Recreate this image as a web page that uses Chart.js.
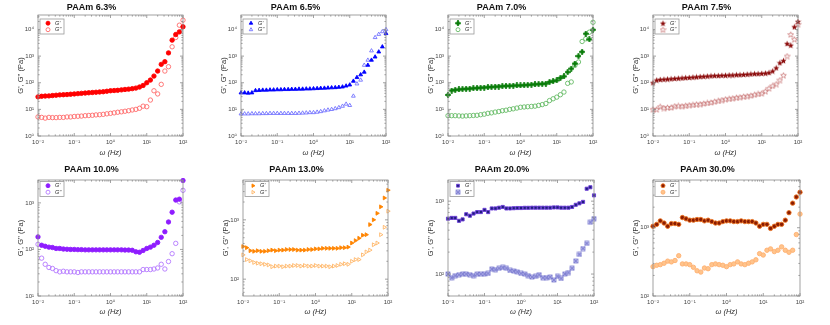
<!DOCTYPE html>
<html><head><meta charset="utf-8">
<script src="https://cdn.jsdelivr.net/npm/chart.js@4.4.1/dist/chart.umd.min.js"></script>
<style>
html,body{margin:0;padding:0;background:#fff;}
#wrap{position:relative;width:830px;height:325px;overflow:hidden;}
#wrap canvas{position:absolute;}
</style></head><body><div id="wrap"></div>
<script>
// Frequency (Hz), shared by all panels
const freq = [0.01,0.0126,0.0158,0.02,0.0251,0.0316,0.0398,0.0501,0.0631,0.0794,
  0.1,0.126,0.158,0.2,0.251,0.316,0.398,0.501,0.631,0.794,
  1,1.26,1.58,2,2.51,3.16,3.98,5.01,6.31,7.94,
  10,12.6,15.8,20,25.1,31.6,39.8,50.1,63.1,79.4,100];

const titles = ["PAAm 6.3%","PAAm 6.5%","PAAm 7.0%","PAAm 7.5%","PAAm 10.0%","PAAm 13.0%","PAAm 20.0%","PAAm 30.0%"];
const seriesLabels = ["G'", "G''"];

const p63_Gp  = [29.5,31,31.6,32,33,34,35,35.5,36,37, 38,39,40,41,42,43,44,45,46,48, 50,51,52,54,56,57.5,60,63,69,79, 100,126,178,275,490,617,1320,3980,6460,8130, 12600];
const p63_Gpp = [5.2,5.0,4.7,5.0,4.9,4.9,5.0,5.0,5.2,5.2, 5.4,5.5,5.6,5.8,5.9,6.0,6.2,6.3,6.5,6.8, 7.1,7.4,7.8,8.1,8.5,8.9,9.5,10,11,13.2, 12.6,22.4,50,38,87,275,400,2240,5010,14500, 22400];

const p65_Gp  = [42,42,41,42,51,52,53,53,54,54, 55,55,56,56,57,57,58,58,59,59, 60,61,62,63,64,65,66,68,70,76, 83,115,158,200,251,457,708,933,1445,2240, 7080];
const p65_Gpp = [6.8,6.8,6.8,6.9,6.9,6.9,7.0,7.0,7.1,7.1, 7.1,7.1,7.1,7.1,7.1,7.1,7.2,7.3,7.4,7.6, 7.6,7.9,8.3,8.9,9.5,10,10.7,11.7,13.2,15.8, 14.1,31.6,91,126,457,708,1585,5010,6610,8320, 10000];

const p70_Gp  = [35,51,54,56,57.5,59,60,62,63,65, 66,68,69,71,72,74,76,76,78,79, 79,81,83,85,87,89,91,93,107,115, 123,151,174,251,339,525,1000,1445,6920,4270, 9770];
const p70_Gpp = [5.8,5.8,5.8,5.7,5.6,5.7,5.8,5.9,6.0,6.3, 6.6,7.1,7.4,7.9,8.3,8.9,9.3,10,10.5,11.2, 12,12.3,12.6,12.9,13.2,14.1,15.1,16.6,21.4,25, 28.8,35.5,44.7,95,107,447,603,3550,4470,7940, 18600];

const p75_Gp  = [100,126,132,135,138,141,145,148,151,155, 158,162,166,170,174,178,182,186,186,190, 191,195,195,200,200,204,209,214,219,219, 224,229,240,275,363,562,676,2950,2570,12600, 20000];
const p75_Gpp = [10,10,12.6,11.2,11.7,11.7,13.2,13.5,13.2,13.8, 14.5,14.8,15.5,15.8,16.6,17.4,18.2,19.5,20.9,22.4, 24,25,26.3,27.5,28.8,30.2,31.6,33,35.5,38, 40,47.9,61.7,75.9,89,126,191,1000,6460,4270, 15800];

const p100_Gp  = [186,123,117,112,110,105,105,102,101,100, 100,99,99,98,98,98,98,98,98,98, 98,98,98,98,97,97,96,89,87,95, 105,112,123,141,182,240,389,631,1150,1200, 3020];
const p100_Gpp = [129,65,48,41,39,35,33,34,33,33, 33,32,33,33,33,33,33,33,33,33, 33,33,33,33,33,33,33,33,33,37, 37,37,38,40,48,38,55,81,135,1050, 1860];

const p130_Gp  = [355,339,302,295,302,295,295,302,309,302, 309,309,316,316,316,309,309,309,316,316, 324,324,331,331,331,331,331,339,339,347, 407,447,490,550,562,832,1000,1290,1660,2340, 3160];
const p130_Gpp = [257,214,204,191,186,182,178,174,162,166, 166,162,166,166,170,170,166,170,166,166, 170,166,166,166,162,166,170,178,182,178, 200,214,214,257,288,309,380,407,562,750, 1400];

const p200_Gp  = [575,589,589,537,562,661,631,676,708,708, 759,708,794,794,813,832,794,794,800,805, 805,810,810,813,813,813,813,813,813,820, 820,813,813,813,832,891,933,977,1480,1550, 1200];
const p200_Gpp = [100,89,95,98,100,100,98,95,100,100, 100,102,117,115,120,123,120,112,110,107, 102,100,95,91,93,98,89,89,91,83, 93,87,100,105,120,151,186,224,263,513, 575];

const p300_Gp  = [1050,1120,1260,1170,1050,1150,1150,1120,1410,1350, 1290,1290,1320,1320,1260,1290,1230,1170,1170,1230, 1260,1260,1230,1230,1260,1230,1230,1230,1170,1050, 1120,1120,977,1050,1120,1120,1290,1660,2290,2820, 3310];
const p300_Gpp = [269,282,288,302,324,316,331,389,295,295, 288,263,234,224,257,251,288,295,288,282, 269,288,295,316,295,288,302,316,339,417, 398,468,490,447,468,525,468,437,468,794, 1585];

// ---- marker images ----
function mk(size, draw){ const c=document.createElement('canvas'); c.width=size; c.height=size; const g=c.getContext('2d'); draw(g,size/2); return c; }
function starPath(g,cx,cy,R,r){ g.beginPath(); for(let i=0;i<10;i++){ const a=-Math.PI/2+i*Math.PI/5; const rr=i%2?r:R; g.lineTo(cx+rr*Math.cos(a), cy+rr*Math.sin(a)); } g.closePath(); }
const starFill = mk(7,(g,c)=>{ starPath(g,c,c+0.3,3.2,1.4); g.fillStyle='#8b0a0a'; g.fill(); });
const starOpen = mk(7,(g,c)=>{ starPath(g,c,c+0.3,3.0,1.3); g.strokeStyle='#c46a6a'; g.lineWidth=0.7; g.stroke(); });
const plusGreen = mk(6,(g,c)=>{ g.fillStyle='#0a7d0a'; g.beginPath(); g.arc(c,c,2.0,0,2*Math.PI); g.fill(); g.fillRect(c-0.8,c-3,1.6,6); g.fillRect(c-3,c-0.8,6,1.6); });
const sqX = mk(6,(g,c)=>{ g.fillStyle='#c8c8f2'; g.fillRect(1,1,4,4); g.strokeStyle='#6a6ac8'; g.lineWidth=0.7; g.strokeRect(1,1,4,4); g.beginPath(); g.moveTo(1,1); g.lineTo(5,5); g.moveTo(5,1); g.lineTo(1,5); g.stroke(); });

const T='rgba(0,0,0,0)';
const panels = [
  {gp:p63_Gp, gpp:p63_Gpp, ymin:1, ymax:35000, col:0, row:0, yW:38, R:22,
   s1:{pointStyle:'circle', backgroundColor:'#ff0000', borderColor:'#ff0000'},
   s2:{pointStyle:'circle', backgroundColor:T, borderColor:'#ff6a6a'}},
  {gp:p65_Gp, gpp:p65_Gpp, ymin:1, ymax:35000, col:1, row:0, yW:36, R:24,
   s1:{pointStyle:'triangle', backgroundColor:'#0000ff', borderColor:'#0000ff'},
   s2:{pointStyle:'triangle', backgroundColor:T, borderColor:'#7373ff'}},
  {gp:p70_Gp, gpp:p70_Gpp, ymin:1, ymax:35000, col:2, row:0, yW:38, R:22,
   s1:{pointStyle:plusGreen, backgroundColor:'#0a7d0a', borderColor:'#0a7d0a'},
   s2:{pointStyle:'circle', backgroundColor:T, borderColor:'#66bb66'}},
  {gp:p75_Gp, gpp:p75_Gpp, ymin:1, ymax:35000, col:3, row:0, yW:38, R:22,
   s1:{pointStyle:starFill, backgroundColor:'#8b0a0a', borderColor:'#8b0a0a'},
   s2:{pointStyle:starOpen, backgroundColor:T, borderColor:'#c46a6a'}},
  {gp:p100_Gp, gpp:p100_Gpp, ymin:10, ymax:3100, col:0, row:1, yW:38, R:22,
   s1:{pointStyle:'circle', backgroundColor:'#8f1cff', borderColor:'#8f1cff'},
   s2:{pointStyle:'circle', backgroundColor:T, borderColor:'#b377ff'}},
  {gp:p130_Gp, gpp:p130_Gpp, ymin:52, ymax:4700, col:1, row:1, yW:38, R:22,
   s1:{pointStyle:'triangle', rotation:90, backgroundColor:'#ff8400', borderColor:'#ff8400'},
   s2:{pointStyle:'triangle', rotation:90, backgroundColor:T, borderColor:'#ffb566'}},
  {gp:p200_Gp, gpp:p200_Gpp, ymin:50, ymax:1950, col:2, row:1, yW:38, R:21,
   s1:{pointStyle:'rect', backgroundColor:'#1e1e7a', borderColor:'#6a3ad8'},
   s2:{pointStyle:sqX, backgroundColor:'#c8c8f2', borderColor:'#6a6ac8'}},
  {gp:p300_Gp, gpp:p300_Gpp, ymin:100, ymax:5000, col:3, row:1, yW:38, R:20,
   s1:{pointStyle:'circle', backgroundColor:'#8b1c02', borderColor:'#ec7420'},
   s2:{pointStyle:'circle', backgroundColor:'#ffc48c', borderColor:'#ffb070'}}
];

const FONT = "'Liberation Sans', Arial, 'DejaVu Sans', sans-serif";
const supMap = {'-':'\u207B','0':'\u2070','1':'\u00B9','2':'\u00B2','3':'\u00B3','4':'\u2074','5':'\u2075'};
function powLabel(v){ const e=Math.round(Math.log10(v)); return '10'+String(e).split('').map(c=>supMap[c]).join(''); }
function decades(min,max){ const out=[]; for(let e=Math.floor(Math.log10(min)-1e-9); e<=Math.ceil(Math.log10(max)); e++){ const v=Math.pow(10,e); if(v>=min*0.999 && v<=max*1.001) out.push(v);} return out; }
function allTicks(min,max){ const out=[]; for(let e=Math.floor(Math.log10(min))-1; e<=Math.ceil(Math.log10(max)); e++){ for(let m=1;m<10;m++){ const v=m*Math.pow(10,e); if(v>=min*0.999 && v<=max*1.001) out.push([v,m===1]); } } return out; }

const framePlugin = {
  id:'frame',
  afterDraw(chart){
    const {ctx, chartArea:a} = chart;
    const xs = chart.scales.x, ys = chart.scales.y;
    ctx.save();
    ctx.strokeStyle='#8a8a8a'; ctx.lineWidth=0.8;
    ctx.strokeRect(a.left, a.top, a.right-a.left, a.bottom-a.top);
    ctx.beginPath();
    for(const [v,maj] of allTicks(xs.min, xs.max)){
      const px = xs.getPixelForValue(v); const L = maj?3:1.6;
      ctx.moveTo(px,a.bottom); ctx.lineTo(px,a.bottom-L);
      ctx.moveTo(px,a.top); ctx.lineTo(px,a.top+L);
    }
    for(const [v,maj] of allTicks(ys.min, ys.max)){
      const py = ys.getPixelForValue(v); const L = maj?3:1.6;
      ctx.moveTo(a.left,py); ctx.lineTo(a.left+L,py);
      ctx.moveTo(a.right,py); ctx.lineTo(a.right-L,py);
    }
    ctx.stroke();
    // legend box
    const o = chart.options.plugins.frame;
    const bx = a.left+2, by = a.top+o.legTop, bw = 24, bh = 15;
    ctx.fillStyle='#fff'; ctx.fillRect(bx,by,bw,bh);
    ctx.strokeStyle='#9a9a9a'; ctx.lineWidth=0.8; ctx.strokeRect(bx,by,bw,bh);
    chart.data.datasets.forEach((d,i)=>{
      const cy = by + 4.2 + i*6.5;
      ctx.fillStyle = d.backgroundColor; ctx.strokeStyle = d.borderColor; ctx.lineWidth = d.pointBorderWidth;
      Chart.helpers.drawPoint(ctx, {pointStyle:d.pointStyle, rotation:d.rotation||0, radius:2, borderWidth:d.pointBorderWidth}, bx+8, cy);
      ctx.fillStyle='#333'; ctx.font = "italic 5.5px "+FONT; ctx.textBaseline='middle'; ctx.textAlign='left';
      ctx.fillText(d.label, bx+15, cy);
    });
    ctx.restore();
  }
};

const wrap = document.getElementById('wrap');
panels.forEach((p,idx)=>{
  const top = p.row===0 ? 0 : 162;
  const H = p.row===0 ? 162 : 163;
  const cv = document.createElement('canvas');
  cv.width = 205; cv.height = H;
  cv.style.left = (p.col*205)+'px'; cv.style.top = top+'px';
  wrap.appendChild(cv);
  const mkds = (label, ys, st) => Object.assign({label, data: freq.map((x,i)=>({x, y: ys[i]})),
    showLine:false, clip:false, pointRadius:2.2, pointHoverRadius:2.2, pointBorderWidth:0.9}, st, {pointRotation: st.rotation||0});
  new Chart(cv, {
    type:'scatter',
    data:{datasets:[mkds(seriesLabels[0], p.gp, p.s1), mkds(seriesLabels[1], p.gpp, p.s2)]},
    plugins:[framePlugin],
    options:{
      responsive:false, animation:false, events:[],
      layout:{padding:{left:0, right:p.R, top:0, bottom:0}},
      plugins:{
        legend:{display:false}, tooltip:{enabled:false},
        frame:{legTop: p.row===0 ? 4 : 1.5},
        title:{display:true, text:titles[idx], color:'#111',
          font:{family:FONT, size:9, weight:'bold', lineHeight:1.1},
          padding: p.row===0 ? {top:2.5,bottom:2.6} : {top:3,bottom:5.1}}
      },
      scales:{
        x:{type:'logarithmic', min:0.01, max:100,
          grid:{display:false, drawTicks:false}, border:{display:false},
          afterBuildTicks: s => { s.ticks = decades(0.01,100).map(v=>({value:v})); },
          afterFit: s => { s.height = p.row===0 ? 26 : 29; },
          ticks:{font:{family:FONT, size:6}, color:'#444', padding:3, autoSkip:false, maxRotation:0, callback: v => powLabel(v)},
          title:{display:true, text:'\u03C9 (Hz)', color:'#333', font:{family:FONT, size:7.5, style:'italic'},
            padding: p.row===0 ? {top:0,bottom:4.5} : {top:0,bottom:8.5}}
        },
        y:{type:'logarithmic', min:p.ymin, max:p.ymax,
          grid:{display:false, drawTicks:false}, border:{display:false},
          afterBuildTicks: s => { s.ticks = decades(p.ymin,p.ymax).map(v=>({value:v})); },
          afterFit: s => { s.width = p.yW; },
          ticks:{font:{family:FONT, size:6}, color:'#444', padding:4, autoSkip:false, callback: v => powLabel(v)},
          title:{display:true, text:"G', G'' (Pa)", color:'#333', font:{family:FONT, size:7.5},
            padding:{top: p.yW-22, bottom:0}}
        }
      }
    }
  });
});
</script></body></html>
